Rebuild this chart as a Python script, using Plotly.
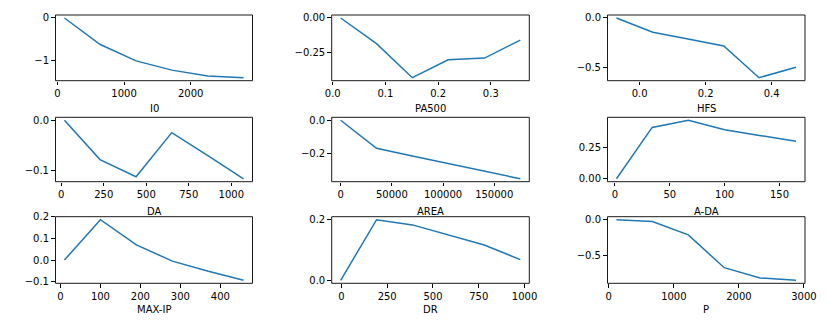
import plotly.graph_objects as go

# valores (efecto acumulado por variable)
I0_X = [105, 643, 1181, 1719, 2257, 2795]
I0_Y = [0.0, -0.63, -1.02, -1.24, -1.38, -1.42]

PA500_X = [0.015, 0.083, 0.151, 0.219, 0.288, 0.356]
PA500_Y = [0.0, -0.188, -0.438, -0.306, -0.294, -0.162]

HFS_X = [-0.070, 0.040, 0.147, 0.255, 0.362, 0.474]
HFS_Y = [0.0, -0.142, -0.21, -0.281, -0.598, -0.493]

DA_X = [19, 228, 440, 650, 862, 1072]
DA_Y = [0.0, -0.078, -0.112, -0.0246, -0.070, -0.116]

AREA_X = [0, 35000, 70000, 105000, 140000, 175500]
AREA_Y = [0.0, -0.167, -0.213, -0.258, -0.303, -0.349]

ADA_X = [1.5, 34, 67, 100, 133, 165]
ADA_Y = [0.0, 0.413, 0.471, 0.395, 0.347, 0.302]

MAXIP_X = [10, 100, 190, 280, 370, 458]
MAXIP_Y = [0.0, 0.187, 0.070, -0.005, -0.052, -0.094]

DR_X = [-4, 192, 388, 584, 780, 977]
DR_Y = [0.0, 0.199, 0.182, 0.149, 0.116, 0.068]

P_X = [118, 670, 1222, 1774, 2326, 2878]
P_Y = [0.0, -0.024, -0.21, -0.663, -0.804, -0.837]

PANELS = [
    ("I0", I0_X, I0_Y, [0, 1000, 2000], "d", [0, -1], "d"),
    ("PA500", PA500_X, PA500_Y, [0.0, 0.1, 0.2, 0.3], ".1f", [0.0, -0.25], ".2f"),
    ("HFS", HFS_X, HFS_Y, [0.0, 0.2, 0.4], ".1f", [0.0, -0.5], ".1f"),
    ("DA", DA_X, DA_Y, [0, 250, 500, 750, 1000], "d", [0.0, -0.1], ".1f"),
    ("AREA", AREA_X, AREA_Y, [0, 50000, 100000, 150000], "d", [0.0, -0.2], ".1f"),
    ("A-DA", ADA_X, ADA_Y, [0, 50, 100, 150], "d", [0.0, 0.25], ".2f"),
    ("MAX-IP", MAXIP_X, MAXIP_Y, [0, 100, 200, 300, 400], "d", [0.2, 0.1, 0.0, -0.1], ".1f"),
    ("DR", DR_X, DR_Y, [0, 250, 500, 750, 1000], "d", [0.0, 0.2], ".1f"),
    ("P", P_X, P_Y, [0, 1000, 2000, 3000], "d", [0.0, -0.5], ".1f"),
]

W, H = 830, 332
COLS_PX = [(55.5, 252.5), (331.7, 529.3), (607.5, 805.0)]
ROWS_PX = [(15.0, 80.7), (117.3, 181.7), (216.7, 283.3)]
LABEL_Y_PX = [108, 211, 309]

_FONT = dict(family="DejaVu Sans, sans-serif", size=10, color="#000000")


def _pad(vals):
    lo, hi = min(vals), max(vals)
    d = (hi - lo) * 0.05
    return [lo - d, hi + d]


fig = go.Figure()
layout = {}
for i, (name, xs, ys, xt, xf, yt, yf) in enumerate(PANELS):
    r, c = divmod(i, 3)
    sfx = "" if i == 0 else str(i + 1)
    fig.add_trace(
        go.Scatter(
            x=xs,
            y=ys,
            mode="lines",
            line=dict(color="#1f77b4", width=1.5),
            xaxis="x" + sfx,
            yaxis="y" + sfx,
            showlegend=False,
        )
    )
    x0, x1 = COLS_PX[c]
    t0, t1 = ROWS_PX[r]
    common = dict(
        showline=False,
        ticks="outside",
        ticklen=3.5,
        tickwidth=0.8,
        tickcolor="black",
        showgrid=False,
        zeroline=False,
        automargin=False,
        tickfont=_FONT,
    )
    layout["xaxis" + sfx] = dict(
        common,
        domain=[x0 / W, x1 / W],
        anchor="y" + sfx,
        range=_pad(xs),
        tickvals=xt,
        tickformat=xf,
    )
    layout["yaxis" + sfx] = dict(
        common,
        domain=[1 - t1 / H, 1 - t0 / H],
        anchor="x" + sfx,
        range=_pad(ys),
        tickvals=yt,
        tickformat=yf,
    )
    # marco del eje (spines)
    fig.add_shape(
        type="rect",
        xref=f"x{sfx} domain",
        yref=f"y{sfx} domain",
        x0=0,
        x1=1,
        y0=0,
        y1=1,
        line=dict(color="black", width=0.9),
        fillcolor="rgba(0,0,0,0)",
        layer="above",
    )
    fig.add_annotation(
        text=name,
        xref="paper",
        yref="paper",
        x=(x0 + x1) / 2 / W,
        y=1 - LABEL_Y_PX[r] / H,
        xanchor="center",
        yanchor="middle",
        showarrow=False,
        font=_FONT,
    )

fig.update_layout(
    **layout,
    template="none",
    width=W,
    height=H,
    margin=dict(l=0, r=0, t=0, b=0, autoexpand=False),
    paper_bgcolor="white",
    plot_bgcolor="white",
    font=_FONT,
)
fig.write_html(
    "out.html",
    config={"displayModeBar": False},
    post_script="document.body.style.margin='0px';",
)
